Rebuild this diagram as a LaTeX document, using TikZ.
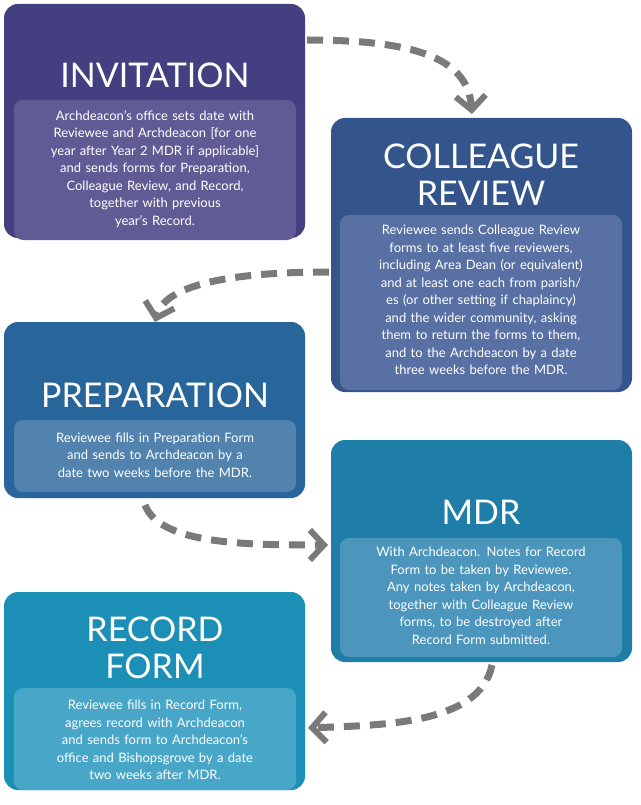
\documentclass[tikz,border=0pt]{standalone}
\usepackage{fontspec}
\setmainfont{Lato}
\usetikzlibrary{arrows.meta}
\definecolor{c1}{HTML}{443F80}\definecolor{i1}{HTML}{615B95}
\definecolor{c2}{HTML}{33558C}\definecolor{i2}{HTML}{5870A3}
\definecolor{c3}{HTML}{27659A}\definecolor{i3}{HTML}{5283AE}
\definecolor{c4}{HTML}{1F7EA8}\definecolor{i4}{HTML}{4C95BC}
\definecolor{c5}{HTML}{1B8FB6}\definecolor{i5}{HTML}{48A6C8}
\definecolor{ag}{HTML}{7A7A7A}
\tikzset{
 outer/.style={rounded corners=14pt},
 inner/.style={rounded corners=9pt},
 ttl/.style={text=white,font=\fontsize{34}{36}\selectfont,align=center},
 body/.style={text=white,font=\fontsize{13}{17.5}\selectfont,align=center,text width=280pt},
 flow/.style={draw=ag,line width=7pt,dash pattern=on 16pt off 10pt,-{Straight Barb[length=14pt,width=30pt,line width=6pt]}}
}
\begin{document}
\begin{tikzpicture}[x=1pt,y=-1pt]
\useasboundingbox (0,0) rectangle (640,805);
\fill[white] (0,0) rectangle (640,805);
% box 1
\fill[c1,outer] (4,4) rectangle (305,238);
\fill[i1,inner] (14,100) rectangle (296,240);
\node[ttl] (t1) at (155,75) {INVITATION};
\node[body] (b1) at (155,169) {Archdeacon’s office sets date with\\ Reviewee and Archdeacon [for one\\ year after Year 2 MDR if applicable]\\ and sends forms for Preparation,\\ Colleague Review, and Record,\\ together with previous\\ year’s Record.};
% box 2
\fill[c2,outer] (331,118) rectangle (632,392);
\fill[i2,inner] (340,215) rectangle (622,390);
\node[ttl,font=\fontsize{34}{37}\selectfont] (t2) at (481,175) {COLLEAGUE\\REVIEW};
\node[body] (b2) at (481,300) {Reviewee sends Colleague Review\\ forms to at least five reviewers,\\ including Area Dean (or equivalent)\\ and at least one each from parish/\\ es (or other setting if chaplaincy)\\ and the wider community, asking\\ them to return the forms to them,\\ and to the Archdeacon by a date\\ three weeks before the MDR.};
% box 3
\fill[c3,outer] (4,322) rectangle (305,498);
\fill[i3,inner] (14,420) rectangle (296,492);
\node[ttl] (t3) at (155,395) {PREPARATION};
\node[body] (b3) at (155,455) {Reviewee fills in Preparation Form\\ and sends to Archdeacon by a\\ date two weeks before the MDR.};
% box 4
\fill[c4,outer] (331,440) rectangle (632,662);
\fill[i4,inner] (340,538) rectangle (622,657);
\node[ttl] (t4) at (481,512) {MDR};
\node[body] (b4) at (481,596) {With Archdeacon. Notes for Record\\ Form to be taken by Reviewee.\\ Any notes taken by Archdeacon,\\ together with Colleague Review\\ forms, to be destroyed after\\ Record Form submitted.};
% box 5
\fill[c5,outer] (4,592) rectangle (305,790);
\fill[i5,inner] (14,688) rectangle (296,790);
\node[ttl,font=\fontsize{34}{37}\selectfont] (t5) at (155,648) {RECORD\\FORM};
\node[body] (b5) at (155,740) {Reviewee fills in Record Form,\\ agrees record with Archdeacon\\ and sends form to Archdeacon’s\\ office and Bishopsgrove by a date\\ two weeks after MDR.};
% arrows
\coordinate (s1) at (307,40); \coordinate (e1) at (472,114);
\coordinate (s2) at (329,272); \coordinate (e2) at (155,322);
\coordinate (s3) at (145,505); \coordinate (e3) at (328,545);
\coordinate (s4) at (492,665); \coordinate (e4) at (308,728);
\draw[flow] (s1) .. controls (420,40) and (468,60) .. (e1);
\draw[flow] (s2) .. controls (230,272) and (165,285) .. (e2);
\draw[flow] (s3) .. controls (160,545) and (250,545) .. (e3);
\draw[flow] (s4) .. controls (480,725) and (380,725) .. (e4);
\end{tikzpicture}
\end{document}
